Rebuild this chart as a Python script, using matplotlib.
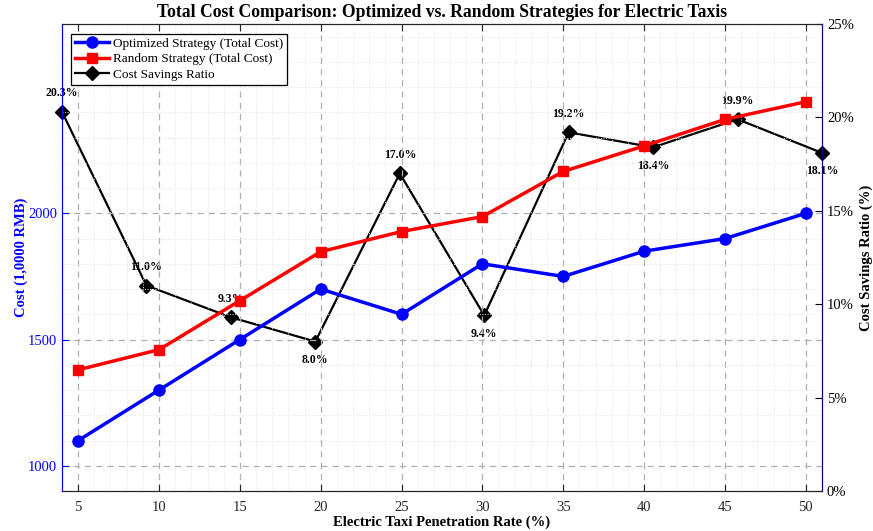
import numpy as np
import matplotlib
matplotlib.use("Agg")
import matplotlib.pyplot as plt
from matplotlib.ticker import MultipleLocator, FuncFormatter

plt.rcParams['font.family'] = ['Liberation Serif', 'DejaVu Serif']

# penetration rate (%) and total cost (1,0000 RMB)
penetration = [5, 10, 15, 20, 25, 30, 35, 40, 45, 50]
cost_optimized = [1100, 1300, 1500, 1700, 1600, 1800, 1750, 1850, 1900, 2000]
cost_random = [1380, 1460, 1654, 1848, 1928, 1987, 2166, 2267, 2372, 2442]
savings_ratio = [20.3, 11.0, 9.3, 8.0, 17.0, 9.4, 19.2, 18.4, 19.9, 18.1]
label_above = [True, True, True, False, True, False, True, False, True, False]

fig = plt.figure(figsize=(8.73, 5.31), dpi=100)
ax = fig.add_axes([0.071, 0.0753, 0.8706, 0.8795])

blue = '#0000ff'
red = '#ff0000'

l1, = ax.plot(penetration, cost_optimized, '-o', color=blue, lw=2.5, ms=8,
              label='Optimized Strategy (Total Cost)')
l2, = ax.plot(penetration, cost_random, '-s', color=red, lw=2.5, ms=7,
              label='Random Strategy (Total Cost)')
ax.set_xlim(4, 51)
ax.set_ylim(900, 2750)
ax.set_xticks(penetration)
ax.set_yticks([1000, 1500, 2000])
ax.xaxis.set_minor_locator(MultipleLocator(1))
ax.yaxis.set_minor_locator(MultipleLocator(100))
ax.grid(which='major', ls=(0, (5, 4)), color='#b0b0b0', lw=0.9)
ax.grid(which='minor', ls=':', color='#e2e2e2', lw=0.7)
ax.set_axisbelow(True)
ax.tick_params(axis='x', which='major', direction='in', top=True, length=5,
               colors='#262626', labelsize=10.5, pad=7)
ax.tick_params(axis='y', which='major', direction='in', right=True, length=5,
               colors=blue, labelsize=10.5)
ax.tick_params(which='minor', length=0)
for s in ['top', 'bottom']:
    ax.spines[s].set_color('#262626')
ax.spines['left'].set_color(blue)
ax.spines['right'].set_color('#000080')
ax.set_xlabel('Electric Taxi Penetration Rate (%)', fontsize=10.5, fontweight='bold',
              labelpad=1)
ax.set_ylabel('Cost (1,0000 RMB)', fontsize=10.5, fontweight='bold', color=blue,
              labelpad=0)
ax.set_title('Total Cost Comparison: Optimized vs. Random Strategies for Electric Taxis',
             fontsize=12.7, fontweight='bold', pad=5)

# savings ratio, spread evenly across the axis span
ax2 = ax.twinx()
xs = np.linspace(ax.get_xlim()[0], ax.get_xlim()[1], len(savings_ratio))
l3, = ax2.plot(xs, savings_ratio, '-D', color='black', lw=1.6, ms=7,
               label='Cost Savings Ratio', clip_on=False, zorder=5)
ax2.set_ylim(0, 25)
ax2.yaxis.set_major_locator(MultipleLocator(5))
ax2.yaxis.set_major_formatter(FuncFormatter(lambda v, p: f'{v:.0f}%'))
ax2.tick_params(axis='y', direction='in', length=5, colors='black', labelsize=10.5)
ax2.spines['right'].set_color('#000080')
ax2.spines['left'].set_color(blue)
ax2.set_ylabel('Cost Savings Ratio (%)', fontsize=10.5, fontweight='bold', labelpad=4)

for x, v, up in zip(xs, savings_ratio, label_above):
    ax2.annotate(f'{v:.1f}%', (x, v), xytext=(0, 9 if up else -9),
                 textcoords='offset points', ha='center',
                 va='bottom' if up else 'top', fontsize=8.5, fontweight='bold')

leg = ax.legend(handles=[l1, l2, l3], loc='upper left', bbox_to_anchor=(0.008, 0.985),
                fontsize=9.5, fancybox=False, edgecolor='black', framealpha=1,
                borderpad=0.3, labelspacing=0.25, handlelength=2.6,
                handletextpad=0.3, borderaxespad=0.2)
leg.get_frame().set_linewidth(0.9)
leg.set_zorder(10)
ax.set_zorder(ax2.get_zorder() + 1)
ax.patch.set_visible(False)

fig.savefig('out.png', dpi=100)
